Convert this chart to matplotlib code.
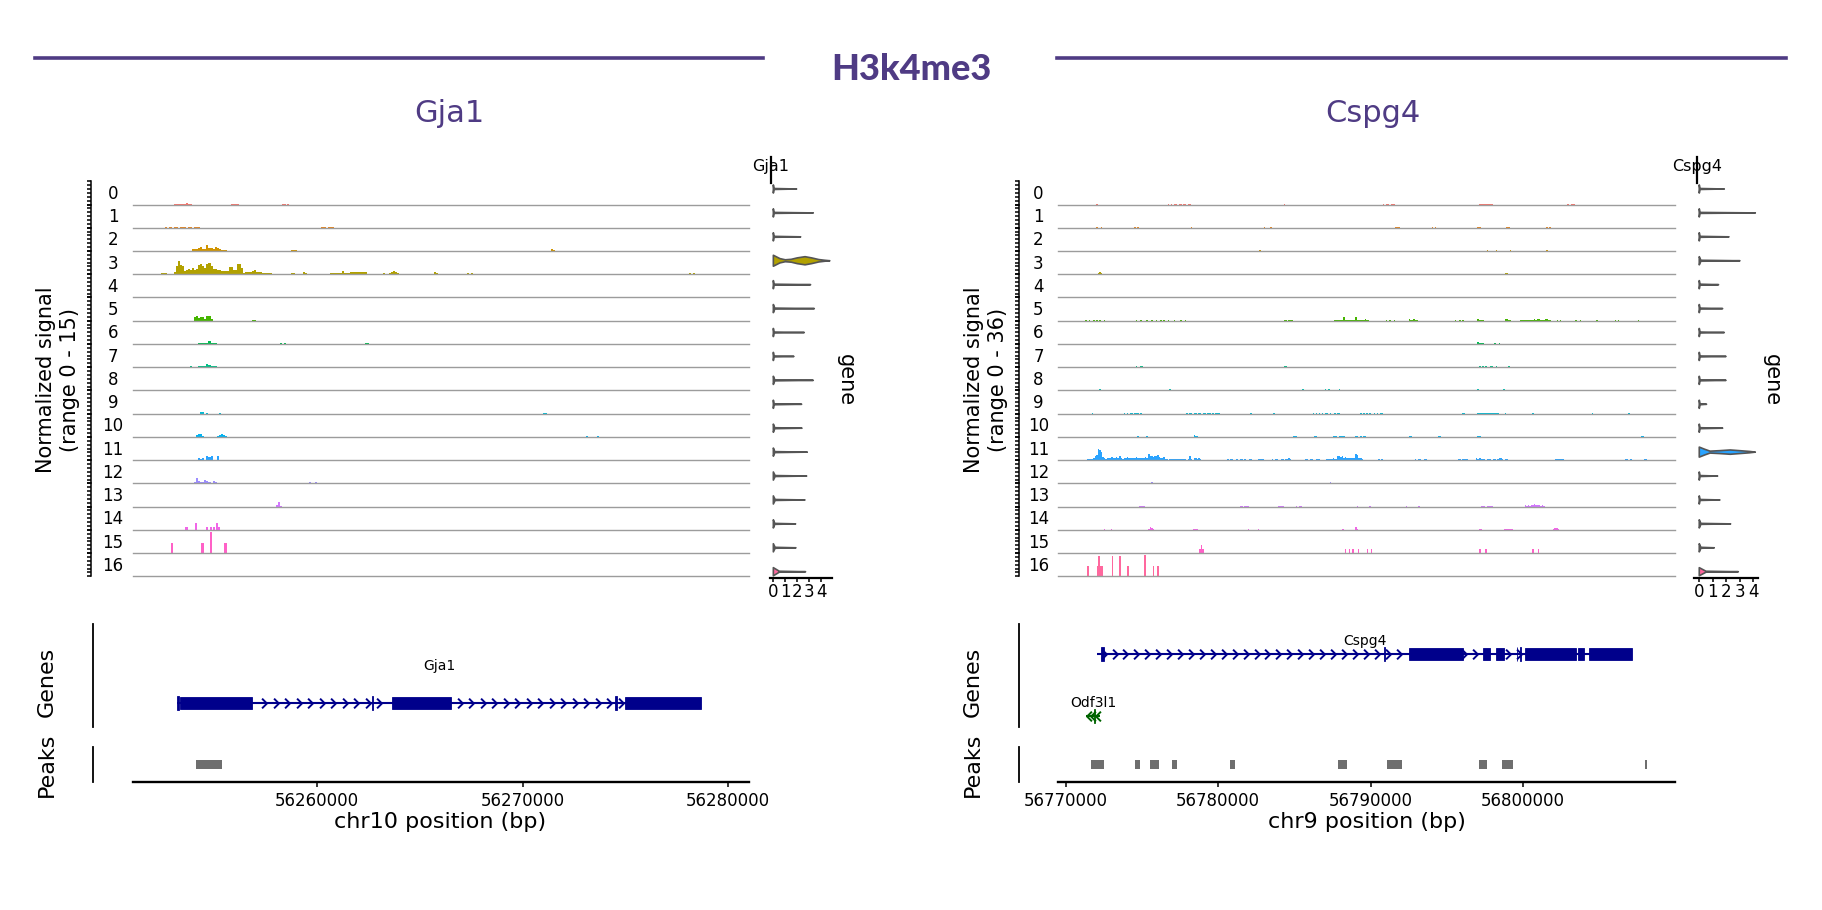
import numpy as np
import matplotlib
matplotlib.use("Agg")
import matplotlib.pyplot as plt
from matplotlib.patches import Rectangle
from matplotlib.lines import Line2D
from matplotlib.path import Path
from matplotlib.ticker import MultipleLocator, FormatStrFormatter

# ---------------- data ----------------
mark = "H3k4me3"
clusters = [str(i) for i in range(17)]

gja1_chrom, gja1_start, gja1_end = "chr10", 56251000, 56281000
cspg4_chrom, cspg4_start, cspg4_end = "chr9", 56769500, 56809950
gja1_range, cspg4_range = 15, 36
bin_bp = 100

# coverage: per cluster a list of runs (start_bp, [height per 100bp bin])
gja1_cov = [
    [(56253000, [0.3, 0.6, 0.3, 0.4, 0.3, 0.3, 0.7, 0.3, 0.2]), (56255800, [0.15, 0.15, 0.15, 0.15]),
     (56258300, [0.15, 0.15, 0.15])],
    [(56252600, [0.2, 0, 0.3, 0, 0.2, 0.3, 0, 0.3, 0.2, 0.3, 0, 0.3, 0.2, 0, 0.3, 0.2, 0.3]),
     (56260200, [0.2, 0.2, 0, 0.2, 0.2, 0.2])],
    [(56253900, [1.1, 1.1, 1.3, 2.1, 2.6, 1.6, 1.5, 3.6, 1.7, 1.7, 1.0, 2.6, 1.7, 1.0, 0.8, 0.4, 0.4, 0.3]),
     (56258700, [0.4, 0.4, 0.4]), (56271400, [1.5, 0.6])],
    [(56252400, [0.9, 1.1, 1.0]),
     (56253000, [1.3, 5, 8.6, 6, 5.5, 2, 3, 3.5, 2.7, 3.8, 3, 3.5, 6, 6.5, 5, 4, 6.5, 7.5, 5, 3.2, 3.2,
                 2.5, 3, 2, 2.2, 2, 2, 4.7, 4.7, 3, 2.5, 6.5, 6.8, 4, 0.8, 1.7, 1.7, 1.2, 1.8, 2.6, 1.5,
                 1.5, 1.2, 1, 1, 1.1, 0.8, 1, 0.4, 0.4, 0.4, 0.4, 0.3]),
     (56258700, [0.5, 1.1]), (56259300, [1.3, 1.0]),
     (56260600, [0.6, 0.5, 0.6, 0.5, 0.8, 0.6, 1.8, 0.9, 0.9, 0.5, 1.5, 1.2, 1.6, 1.3, 1.5, 1.3, 1.3, 1.2]),
     (56263200, [0.9]), (56263500, [1.0, 1.7, 2.2, 1.5, 0.8]), (56265700, [1.3, 1.0]),
     (56267300, [0.6, 0.4, 0.6]), (56278100, [0.5, 0.3, 0.5])],
    [(56254000, [0.5, 0.3, 0.6, 0.3, 0.5, 0.6, 0.3, 0.5, 0.4, 0.3, 0.5, 0.3, 0.5, 0.3]),
     (56257500, [0.4]), (56257900, [0.4]), (56258300, [0.5]), (56260400, [0.4]), (56261100, [0.4]),
     (56262800, [0.4]), (56263100, [0.4]), (56263800, [0.4]), (56264200, [0.4]), (56264700, [0.5, 0.3, 0.5]),
     (56267300, [0.4, 0.3]), (56270300, [0.5, 0.3, 0.4, 0, 0.3, 0.5]), (56274200, [0.4, 0.3, 0.4])],
    [(56254000, [2.6, 3.0, 1.5, 2.4, 2.6, 1.2, 2.8, 3.2, 1.0]), (56256800, [0.6, 0.6])],
    [(56254200, [0.3, 0.3, 0.4, 0.6, 0.5, 1.7, 0.8, 0.5, 0.4]), (56258200, [0.4, 0, 0.4]), (56262300, [0.4, 0.4])],
    [(56253100, [0.3]), (56253800, [0.6]), (56254200, [0.5, 0.8, 0.6, 0.8, 2.1, 1.2, 0.8, 0.6, 0.5, 0.3]),
     (56262000, [0.3, 0.3]), (56270600, [0.3, 0, 0, 0.3]), (56272100, [0.3, 0, 0.3])],
    [],
    [(56254300, [1.3, 0.8, 0, 0.6]), (56255200, [0.5]), (56271000, [0.4, 0.4])],
    [(56254100, [1.5, 1.7, 1.6, 0.4]), (56255100, [0.9, 1.4, 2.1, 1.2, 0.6]), (56273100, [0.4]), (56273600, [0.4])],
    [(56254200, [1.1, 0.8, 1.1, 0, 2.6, 2.2, 2.6, 0.4, 0.3, 2.6])],
    [(56254000, [0.8, 3.2, 1.7, 1.0, 0.6, 2.1, 1.5, 1.2, 0.4, 1.3, 1.1]), (56259600, [0.8, 0, 0, 0.9])],
    [(56258000, [0.8, 3.2, 0.6])],
    [(56253580, [2.1]), (56254050, [4.7]), (56254570, [2.1]), (56254760, [2.1]), (56254940, [2.1]),
     (56255050, [4.3, 2.1])],
    [(56252880, [6.4]), (56254360, [6.4]), (56254760, [13.3]), (56255480, [6.4])],
    [],
]

cspg4_cov = [
    [(56776700, [0.5, 0, 0.6, 0, 0.5, 0.4, 0, 0.5, 0.6, 0, 0.5, 0.5, 0, 0.6, 0.5]),
     (56790800, [0.5, 0, 0.5, 0.5, 0, 0.5, 0.5, 0.5]), (56797100, [1.5, 0.8, 0.5, 1.0, 0.5, 0.8, 0.5, 0.6, 0.5]),
     (56802900, [0.5, 0, 0.5, 0.5, 0.5]), (56772000, [0.4]), (56784300, [0.4])],
    [(56772000, [0.4, 0, 0, 0.4]), (56774500, [0.4, 0, 0.4]), (56778000, [0.3, 0, 0.4]),
     (56783000, [0.4, 0, 0.3, 0, 0.4]), (56791600, [1.5, 1.2, 0.6]), (56794000, [0.4, 0, 0.4]),
     (56797000, [1.5, 0.6]), (56798900, [1.5, 0.8]), (56801500, [0.4, 0, 0.4])],
    [(56772600, [0.5, 0.6, 0.4]), (56776000, [0.3, 0, 0.4, 0, 0.3, 0, 0.4, 0, 0.3, 0, 0.3]),
     (56779500, [0.3, 0, 0.4]), (56782700, [1.5]), (56789300, [0.3, 0, 0.4, 0, 0.3, 0, 0.3]),
     (56792500, [0.3, 0, 0.4]),
     (56797100, [0.6, 0.5, 0, 0.5, 0.4, 0.8, 0.5, 0, 0.5, 0.6, 0.5, 0.8, 0.5, 0, 0.5, 0.4, 0, 0.5, 0.4, 0, 1.5]),
     (56801500, [2.0, 0.5])],
    [(56772100, [1.5, 3.0, 2.0, 0.8]), (56775500, [0.4, 0, 0.4, 0, 0, 0.4, 0, 0.3, 0, 0.4]),
     (56780400, [0.4]), (56785200, [0.3]), (56787600, [0.4, 0, 0.3, 0, 0.4, 0, 0, 0.3, 0, 0.4, 0, 0.3]),
     (56798800, [1.2, 2.0, 0.8]), (56801000, [0.4])],
    [(56771700, [0.4, 0, 0.4, 0, 0.3, 0.4]), (56775400, [0.8, 1.0, 0.6, 0.8, 0.9, 0.6]),
     (56779600, [0.6, 0, 0.7, 0.5]), (56783000, [0.4]), (56787100, [0.8, 1.0, 0.6, 0.8, 1.0, 0.6, 0.8]),
     (56790500, [0.4, 0, 0.3, 0, 0.4, 0, 0.3, 0, 0.4, 0, 0.3, 0, 0, 0.4, 0, 0, 0.4, 0, 0, 0.3, 0, 0.4,
                 0, 0, 0.3, 0, 0, 0.4, 0, 0.3, 0, 0, 0.3, 0.4]),
     (56798800, [1.0, 0.5])],
    [(56771300, [0.4, 0, 0.4, 0, 0, 0.5, 0, 0.4, 0, 0.4, 0, 0, 0.4]),
     (56774600, [0.4, 0, 0, 0.4, 0, 0, 0, 0.4, 0, 0, 1.0, 0, 0, 0.4, 0, 0, 0.4, 0, 0.5, 0, 0, 0.4, 0, 0, 0,
                 0.4, 0, 0, 0, 0.4, 0, 0, 0.4]),
     (56784300, [1.0, 0.8, 0, 0.8, 1.0, 0.6]),
     (56787600, [0.8, 0.6, 0.8, 1.2, 0.8, 1.5, 5.0, 1.5, 1.0, 1.0, 1.2, 1.5, 1.0, 1.5, 6.0, 1.5, 1.2, 1.0, 1.0,
                 1.5, 3.0, 1.0, 0.8]),
     (56791000, [0.4, 0, 0.4, 0, 0, 0.4]), (56792500, [2.0, 1.8, 1.2, 2.0, 1.5, 0.8]),
     (56795500, [0.4, 0, 0, 0.4, 0, 0.4]), (56797000, [2.0, 1.0, 0.5, 0.8]), (56798800, [3.0, 2.0, 0.8, 0.6]),
     (56799800, [1.5, 1.2, 0.8, 1.5, 1.0, 0.8, 1.5, 0.8, 1.5, 2.0, 1.2, 2.0, 2.0, 1.5, 1.0, 1.2, 3.0, 2.0,
                 1.5, 0.6]),
     (56802200, [0.4, 0, 0.4]), (56803400, [0.4, 0, 0, 0.4]), (56804800, [0.4, 0, 0.3]),
     (56806000, [0.4, 0, 0.4]), (56807300, [0.3, 0, 0.4])],
    [(56771500, [0.3, 0, 0.4]), (56774400, [0.4, 0, 0.3]), (56776200, [0.3, 0, 0.4, 0, 0.3]),
     (56779000, [0.4, 0, 0.3]), (56781000, [0.4, 0, 0, 0.4, 0, 0.3, 0, 0.4, 0, 0, 0.3, 0, 0.4]),
     (56784500, [0.3, 0, 0.4, 0, 0.3, 0, 0.4, 0, 0.3]), (56786900, [0.4, 0, 0.3, 0, 0.4, 0, 0.3, 0.4]),
     (56789500, [0.3, 0, 0.4, 0, 0.3]), (56797000, [2.5, 1.5, 1.0, 0.8, 0.6]),
     (56798000, [0.5, 0.8, 0.5, 0, 0.8, 0.6, 0.4, 0, 0.5, 0, 0.4]),
     (56800500, [0.4, 0, 0.3, 0, 0.4, 0, 0.3, 0, 0.4, 0, 0.3, 0, 0.4])],
    [(56771500, [0.4, 0, 0.4]),
     (56774600, [1.5, 0.8, 0, 1.2, 1.5, 0.8, 1.0, 0.5, 0, 0.8, 0.5, 0, 0.6, 0.6, 0.8, 0.5]),
     (56776900, [0.6, 0, 0.5, 0.6, 0, 0.5, 0, 0.6, 0.5, 0.6]), (56779500, [0.4]), (56784300, [2.0, 1.2, 0.5]),
     (56786000, [0.4, 0, 0.5, 0, 0.4, 0, 0.5, 0, 0, 0.4, 0, 0.5, 0, 0.4, 0, 0, 0.4, 0, 0.5, 0, 0.5, 0, 0.4,
                 0, 0.5, 0, 0.4, 0, 0, 0.4, 0, 0.5]),
     (56791700, [0.5, 0, 0.4, 0, 0, 0.5, 0, 0.4, 0.5]),
     (56797100, [1.5, 1.0, 1.2, 0.8, 1.5, 1.0, 0.8, 1.2, 1.5, 0.5, 0.8, 1.2]), (56799000, [1.5, 0.8]),
     (56803500, [0.5]), (56804300, [0.5])],
    [(56772200, [2.5, 0.8]), (56776400, [1.0]), (56776800, [2.5, 1.0]), (56785500, [1.5, 0.8]),
     (56787000, [1.5, 0.6, 1.5, 0.5]), (56787900, [2.0]), (56797000, [1.5]), (56798700, [1.5, 1.2, 0.5])],
    [(56771700, [0.8]), (56773800, [0.5, 0, 0.6, 0, 0.5, 0.6, 0, 0.6, 0.5, 0.6, 0, 0.5]),
     (56777900, [0.6, 0, 0.5, 0.6, 0, 0.8, 0.5, 0, 0.6, 0.5, 0, 0.8, 0.6, 0, 0.5, 0.6, 0, 0.5, 0, 0.6, 0.5, 0.6]),
     (56782100, [0.6]), (56783600, [0.6]),
     (56786200, [0.6, 0, 0.5, 0, 0.6, 0, 0.5, 0, 0.6, 0.5, 0, 0.6, 0, 0, 0.5, 0, 0.6, 0.5]),
     (56789300, [0.5, 0, 0.6, 0, 0.5, 0, 0.6, 0, 0, 0.5, 0, 0.6, 0, 0.5, 0.5]), (56796000, [0.6, 0.5]),
     (56797000, [1.5, 1.0, 0.6, 1.2, 0.8, 0.6, 1.5, 0.8, 0.6, 1.0, 0.6, 0.8, 1.5, 0.6]),
     (56798800, [0.8]), (56800600, [0.8]), (56804500, [0.6]), (56806900, [0.6])],
    [(56771700, [0.5]),
     (56774200, [0.5, 0, 0.6, 0.5, 0, 0.8, 0.6, 0, 0.5, 0.6, 0, 0.8, 0.5, 0, 0.6, 0.5, 0, 0.6, 0.5, 0.6, 0.5]),
     (56778400, [2.5, 1.0, 0.8]),
     (56779300, [0.5, 0, 0.6, 0, 0.5, 0.6, 0, 0.5, 0, 0.6, 0, 0.5, 0, 0.6, 0.5, 0, 0.5, 0, 0.6, 0, 0.5, 0, 0.5]),
     (56784900, [1.0, 0.8, 1.0]), (56786300, [2.0, 0.8]), (56787500, [1.0, 0.8, 1.0, 0.6, 1.0, 0.8, 1.0, 0.8]),
     (56789000, [1.0, 0.8, 0, 1.0, 0.6, 1.0, 0.8]), (56792500, [2.0, 1.0]), (56794400, [1.5, 0.8]),
     (56797000, [2.0, 1.2, 0.6]),
     (56799000, [0.5, 0, 0.6, 0, 0.5, 0, 0.6, 0.5, 0, 0.6, 0, 0.5, 0, 0.6, 0, 0.5, 0, 0.6, 0.5, 0, 0.6, 0,
                 0.5, 0, 0.6, 0, 0.5, 0, 0.6, 0, 0.5, 0, 0.6, 0.5, 0, 0.6, 0, 0.5]),
     (56807700, [1.0, 0.8])],
    [(56771400, [1, 2, 2, 2.5, 3, 6, 8, 18, 15, 12, 5, 4, 2, 3, 4, 3, 5, 3, 4, 5, 3, 6, 3, 2, 4, 3, 5, 3, 4, 3,
                 4, 3, 5, 3, 4, 3, 4, 3, 5, 4, 9, 7, 6, 5, 6, 7, 8, 5, 4, 3, 5, 2, 1.5, 0, 2, 2, 1, 2, 2, 1,
                 2, 1, 2, 2, 1, 0.5, 1, 6, 2, 0.5, 3, 3, 1, 3, 1.5]),
     (56780600, [1, 0, 1, 1, 0, 0, 1, 0, 1, 1, 0, 1, 0, 0, 1, 1]), (56782600, [2, 2, 1, 2]),
     (56783500, [1.5, 0, 1, 1.5, 0, 0, 2, 1.5, 0, 1, 1.5, 3.5, 1]),
     (56785700, [1, 1, 0, 1, 1, 0, 0, 1, 1, 1]),
     (56787100, [2, 2.5, 2, 2.5, 3, 2.5, 2.5, 6, 7, 5, 6, 4, 4.5, 3.5, 4, 3, 4, 3, 4, 9, 8, 3, 3, 1]),
     (56790500, [1, 0, 1]), (56792900, [1.5, 0, 1.5, 1, 0, 0, 1.5, 1]), (56795700, [1.5, 1, 0, 1.5, 1, 1.5, 1]),
     (56796900, [3.5, 2, 3.5, 1.5, 1]), (56797400, [1.5, 0, 1.5, 1, 1.5, 0, 1.5, 1, 0, 1, 3.5, 3, 1]),
     (56798800, [1, 1, 0.5]), (56802100, [2, 1, 1.5, 2, 1, 1]), (56806700, [1, 1, 0.5, 1]),
     (56807900, [2.5, 1])],
    [(56774500, [0.8, 0, 1.0]), (56775600, [2.5, 1.0]), (56787300, [1.5]), (56789700, [1.0, 0.8, 1.0, 0.6, 0.8]),
     (56797200, [1.0, 0.8, 1.0, 0.8, 1.0]), (56799200, [1.0]), (56799700, [0.8])],
    [(56774800, [1.0, 0.8, 1.0, 0.6]), (56781400, [1.0, 0.8, 0, 1.0, 0.8, 1.0]), (56783900, [1.0, 0.8, 1.0, 0.8]),
     (56785100, [1.0, 0, 0.8, 1.0]), (56789100, [1.0]), (56789900, [1.0]), (56792300, [1.0]), (56793100, [1.0]),
     (56797200, [1.5, 0.8, 1.0, 0, 1.5, 1.0, 0.8, 1.5]),
     (56800100, [2.0, 1.0, 2.0, 1.5, 2.0, 2.5, 3.5, 2.0, 3.0, 2.5, 1.5, 2.0, 1.0])],
    [(56772500, [1.5]), (56772950, [1.5]), (56775400, [2.0, 4.0, 2.5, 1.0]), (56778350, [1.5, 1.5, 0.8]),
     (56781950, [1.5]), (56782600, [1.5]), (56788150, [1.5]), (56789000, [5.0, 1.0]), (56797100, [1.5, 1.5]),
     (56798750, [2.0, 1.0, 2.0, 1.5, 2.0, 1.0]), (56801950, [2.0, 3.5, 3.0, 1.5])],
    [(56778750, [6, 13, 6]), (56788300, [6]), (56788550, [6]), (56788800, [6]), (56789150, [6]),
     (56789750, [6]), (56790000, [6]), (56797100, [6]), (56797500, [6]), (56800600, [6]), (56800950, [6])],
    [(56771420, [16.5]), (56772050, [16.5, 31, 16.5, 16.5]), (56773010, [32]), (56773500, [32]),
     (56774050, [16.5]), (56775150, [33]), (56775720, [16.5]), (56775990, [16.5])],
]

# expression violins (x = expression, one row per cluster)
gja1_vmax = [1.94, 3.33, 2.28, 4.72, 3.11, 3.42, 2.58, 1.72, 3.33, 2.36, 2.39, 2.83, 2.78, 2.64, 1.86, 1.89, 2.69]
gja1_vbase = [0.05, 0.05, 0.05, 0.05, 0.05, 0.12, 0.05, 0.05, 0.12, 0.05, 0.12, 0.12, 0.15, 0.15, 0.12, 0.15, 0.5]
gja1_vshape = {3: [(0, 0.23), (0.55, 0.09), (1.0, 0.04), (1.5, 0.06), (2.0, 0.12), (2.65, 0.17),
                   (3.2, 0.12), (3.8, 0.05), (4.3, 0.02), (4.72, 0.0)]}
cspg4_vmax = [1.85, 4.15, 2.2, 3.01, 1.43, 1.73, 1.85, 1.98, 1.98, 0.54, 1.73, 4.15, 1.36, 1.53, 2.32, 1.11, 2.89]
cspg4_vbase = [0.05, 0.05, 0.05, 0.12, 0.05, 0.05, 0.05, 0.05, 0.05, 0.05, 0.05, 0.05, 0.05, 0.05, 0.12, 0.12, 0.5]
cspg4_vshape = {11: [(0, 0.21), (0.4, 0.12), (0.8, 0.04), (1.5, 0.06), (2.3, 0.09), (3.0, 0.06),
                     (3.7, 0.03), (4.15, 0.0)]}

# gene models
gja1_genes = [("Gja1", "+", (56253170, 56278674),
               [(56253170, 56253250), (56253336, 56256840), (56262640, 56262720), (56263632, 56266523),
                (56274510, 56274590), (56274990, 56278674)])]
cspg4_genes = [("Cspg4", "+", (56772062, 56807151),
                [(56772351, 56772541), (56790847, 56790965), (56792521, 56796054), (56797367, 56797840),
                 (56798247, 56798772), (56799560, 56799613), (56799810, 56799876), (56800085, 56803454),
                 (56803618, 56803999), (56804341, 56807151)]),
               ("Odf3l1", "-", (56771346, 56772232), [(56771840, 56771900)])]

gja1_peaks = [(56254085, 56255360)]
cspg4_peaks = [(56771687, 56772548), (56774550, 56774872), (56775509, 56776113), (56776973, 56777288),
               (56780762, 56781077), (56787886, 56788464), (56791037, 56792029), (56797084, 56797630),
               (56798615, 56799317), (56808004, 56808129)]


# ---------------- styling helpers ----------------
def hcl_hex(h, c=100.0, l=65.0):
    hr = np.deg2rad(h)
    U, V = c * np.cos(hr), c * np.sin(hr)
    Xn, Yn, Zn = 95.047, 100.0, 108.883
    den = Xn + 15 * Yn + 3 * Zn
    un, vn = 4 * Xn / den, 9 * Yn / den
    Y = Yn * ((l + 16) / 116) ** 3
    u, v = U / (13 * l) + un, V / (13 * l) + vn
    X = 9 * Y * u / (4 * v)
    Z = 3 * Y / v - X / 3 - 5 * Y
    M = np.array([[3.240479, -1.537150, -0.498535],
                  [-0.969256, 1.875992, 0.041556],
                  [0.055648, -0.204043, 1.057311]])
    rgb = M @ (np.array([X, Y, Z]) / 100)
    rgb = np.where(rgb <= 0.0031308, 12.92 * rgb, 1.055 * np.abs(rgb) ** (1 / 2.4) - 0.055)
    return tuple(np.clip(rgb, 0, 1))


colors = [hcl_hex(15 + 360 * i / 17) for i in range(17)]
purple = "#4f3b84"
gene_blue = "#00008b"
gene_green = "#006400"
peak_grey = "#6e6e6e"

W, H = 1822, 910
fig = plt.figure(figsize=(W / 100, H / 100), dpi=100)


def box(x0, y0, x1, y1):
    return fig.add_axes([x0 / W, 1 - y1 / H, (x1 - x0) / W, (y1 - y0) / H])


def ftext(x, y, s, **kw):
    fig.text(x / W, 1 - y / H, s, **kw)


chev_r = Path([(-0.5, 1), (0.5, 0), (-0.5, -1)], [Path.MOVETO, Path.LINETO, Path.LINETO])
chev_l = Path([(0.5, 1), (-0.5, 0), (0.5, -1)], [Path.MOVETO, Path.LINETO, Path.LINETO])

# header
fig.add_artist(Line2D([35 / W, 763 / W], [1 - 58 / H] * 2, color=purple, lw=2.6))
fig.add_artist(Line2D([1057 / W, 1786 / W], [1 - 58 / H] * 2, color=purple, lw=2.6))
fig.text(911 / W, 1 - 80 / H, mark, ha="center", va="baseline", fontsize=26,
         fontweight=900, family=["Lato", "DejaVu Sans"], color=purple)

panels = [
    dict(name="Gja1", chrom=gja1_chrom, start=gja1_start, end=gja1_end, rng=gja1_range, cov=gja1_cov,
         vmax=gja1_vmax, vbase=gja1_vbase, vshape=gja1_vshape, genes=gja1_genes, peaks=gja1_peaks,
         x0=132.5, x1=748.5, cov_spine=91, gene_spine=93, ytick=2.5, title_x=449,
         vx0=770, vx1=832, vxlim=(-0.28, 4.9), vline=-0.22, gene_lab_x=846,
         gene_y={"Gja1": 0.767}, gene_lab_dy=0.36, chev_bp=560),
    dict(name="Cspg4", chrom=cspg4_chrom, start=cspg4_start, end=cspg4_end, rng=cspg4_range, cov=cspg4_cov,
         vmax=cspg4_vmax, vbase=cspg4_vbase, vshape=cspg4_vshape, genes=cspg4_genes, peaks=cspg4_peaks,
         x0=1058, x1=1675, cov_spine=1019, gene_spine=1019, ytick=6, title_x=1373,
         vx0=1694, vx1=1758, vxlim=(-0.39, 4.35), vline=-0.19, gene_lab_x=1772,
         gene_y={"Cspg4": 0.291, "Odf3l1": 0.893}, gene_lab_dy=0.126, chev_bp=716),
]

track_h = 23.24
base0 = 204.5

for P in panels:
    x0, x1 = P["x0"], P["x1"]
    ftext(P["title_x"], 113, P["name"], ha="center", va="center", fontsize=22, color=purple)

    # ---- coverage tracks ----
    for i, runs in enumerate(P["cov"]):
        yb = base0 + track_h * i
        ax = box(x0, yb - track_h, x1, yb)
        for s, hs in runs:
            lefts = s + bin_bp * np.arange(len(hs))
            ax.bar(lefts, hs, width=bin_bp, align="edge", color=colors[i], linewidth=0)
        ax.set_xlim(P["start"], P["end"])
        ax.set_ylim(0, P["rng"])
        ax.patch.set_alpha(0)
        for sp in ("top", "right"):
            ax.spines[sp].set_visible(False)
        ax.spines["bottom"].set_color("#9c9c9c")
        ax.spines["bottom"].set_linewidth(1.0)
        ax.spines["left"].set_position(("outward", (x0 - P["cov_spine"]) * 0.72))
        ax.spines["left"].set_linewidth(1.1)
        ax.set_xticks([])
        ax.set_yticks(np.arange(0, P["rng"] + 0.01, P["ytick"]))
        ax.tick_params(axis="y", length=2.6, width=1.1, labelleft=False)
        ftext(x0 - 19.5, yb - 10.5, clusters[i], ha="center", va="center", fontsize=12)

    ftext(P["cov_spine"] - 33, 380, "Normalized signal\n(range 0 - %d)" % P["rng"], rotation=90,
          ha="center", va="center", fontsize=15, multialignment="center")

    # ---- violins ----
    vax = box(P["vx0"], 150, P["vx1"], 577.7)
    for r in range(17):
        pts = P["vshape"].get(r, [(0, 0.17), (P["vbase"][r], 0.02), (P["vmax"][r], 0.0)])
        xs = [p[0] for p in pts]
        ws = [p[1] for p in pts]
        vax.fill(xs + xs[::-1], [r - w for w in ws] + [r + w for w in ws[::-1]],
                 facecolor=colors[r], edgecolor="#555555", lw=1.2, joinstyle="round")
    vax.set_xlim(*P["vxlim"])
    vax.set_ylim(16.25, -1.63)
    vax.patch.set_alpha(0)
    for sp in ("top", "right", "left"):
        vax.spines[sp].set_visible(False)
    vax.spines["bottom"].set_linewidth(1.6)
    vax.set_yticks([])
    vax.set_xticks(range(5))
    vax.tick_params(axis="x", length=3, width=1.1, pad=1, labelsize=12)
    vax.plot([P["vline"]] * 2, [-1.34, -0.25], color="black", lw=1.6, clip_on=False)
    vax.text(P["vline"], -0.92, P["name"], ha="center", va="center", fontsize=11.5)
    ftext(P["gene_lab_x"], 380, "gene", rotation=270, ha="center", va="center", fontsize=15)

    # ---- genes ----
    gax = box(x0, 624, x1, 727)
    gax.set_xlim(P["start"], P["end"])
    gax.set_ylim(1, 0)
    for gname, strand, (gs, ge), exons in P["genes"]:
        y = P["gene_y"][gname]
        col = gene_blue if strand == "+" else gene_green
        gax.plot([gs, ge], [y, y], color=col, lw=1.5, solid_capstyle="butt")
        for es, ee in exons:
            tall = 0.136 if ee - es < 300 else 0.123
            gax.add_patch(Rectangle((es, y - tall / 2), ee - es, tall, facecolor=col, edgecolor=col, lw=0.6))
        step = P["chev_bp"] if ge - gs > 3000 else 300
        cx = np.arange(gs + step * 0.6, ge - step * 0.2, step)
        cx = [c for c in cx if not any(es - 60 < c < ee + 60 for es, ee in exons if ee - es > 300)]
        gax.plot(cx, [y] * len(cx), ls="none", marker=chev_r if strand == "+" else chev_l,
                 ms=7, mew=1.4, mfc="none", mec=col)
        gax.text((gs + ge) / 2, y - P["gene_lab_dy"], gname, ha="center", va="center", fontsize=10)
    gax.patch.set_alpha(0)
    for sp in ("top", "right", "bottom"):
        gax.spines[sp].set_visible(False)
    gax.spines["left"].set_position(("outward", (x0 - P["gene_spine"]) * 0.72))
    gax.spines["left"].set_linewidth(1.3)
    gax.set_xticks([])
    gax.set_yticks([])
    ftext(P["gene_spine"] - 46, 682, "Genes", rotation=90, ha="center", va="center", fontsize=16)

    # ---- peaks ----
    pax = box(x0, 747, x1, 782)
    pax.set_xlim(P["start"], P["end"])
    pax.set_ylim(0, 1)
    for ps, pe in P["peaks"]:
        pax.add_patch(Rectangle((ps, 0.49 - 0.13), pe - ps, 0.26, facecolor=peak_grey, lw=0))
    pax.patch.set_alpha(0)
    for sp in ("top", "right"):
        pax.spines[sp].set_visible(False)
    pax.spines["left"].set_position(("outward", (x0 - P["gene_spine"]) * 0.72))
    pax.spines["left"].set_linewidth(1.3)
    pax.spines["bottom"].set_linewidth(1.7)
    pax.set_yticks([])
    pax.xaxis.set_major_locator(MultipleLocator(10000))
    pax.xaxis.set_major_formatter(FormatStrFormatter("%d"))
    pax.tick_params(axis="x", length=3.5, width=1.1, labelsize=12)
    pax.set_xlabel("%s position (bp)" % P["chrom"], fontsize=16, labelpad=2)
    ftext(P["gene_spine"] - 46, 765, "Peaks", rotation=90, ha="center", va="center", fontsize=16)

fig.savefig("out.png", dpi=100)
